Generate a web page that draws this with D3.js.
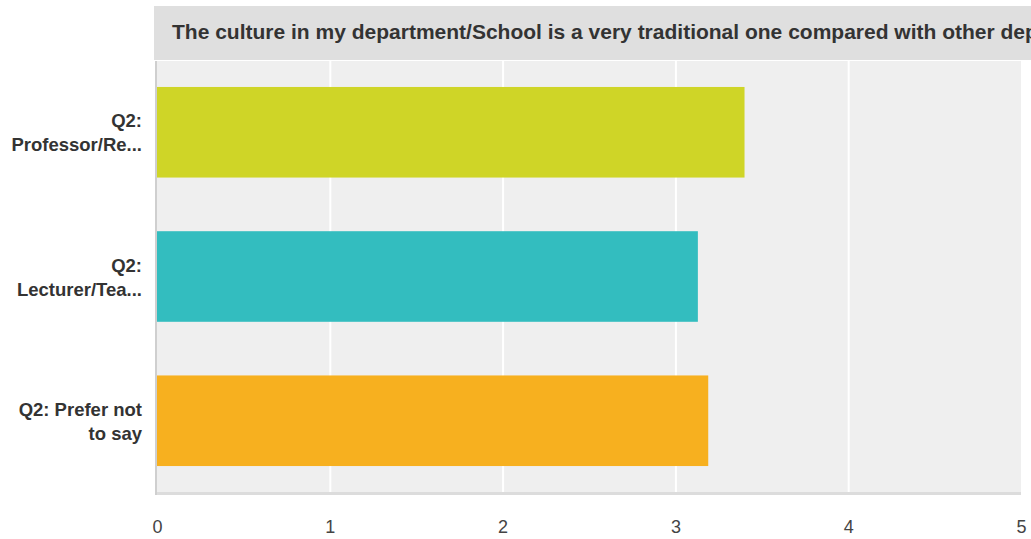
<!DOCTYPE html>
<html><head><meta charset="utf-8">
<script src="https://cdn.jsdelivr.net/npm/d3@7"></script>
<style>html,body{margin:0;padding:0;background:#fff;}svg{display:block;}</style>
</head><body>
<svg id="c" width="1031" height="539"></svg>
<script>
const title = "The culture in my department/School is a very traditional one compared with other departments/Schools";
const categories = ["Q2: Professor/Re...", "Q2: Lecturer/Tea...", "Q2: Prefer not to say"];
const labelLines = [["Q2:", "Professor/Re..."], ["Q2:", "Lecturer/Tea..."], ["Q2: Prefer not", "to say"]];
const values = [3.40, 3.13, 3.19];
const colors = ["#cfd527", "#33bdbf", "#f7b01f"];
const ticks = [0, 1, 2, 3, 4, 5];

const svg = d3.select("#c");
const font = "'Liberation Sans', Arial, Helvetica, sans-serif";
const L = 157, R = 1021, T = 61, B = 492;

const x = d3.scaleLinear().domain([0, 5]).range([L, R]);
const y = d3.scaleBand().domain(categories).range([T, B]).paddingInner(0.372).paddingOuter(0.18);

// title bar
const defs = svg.append("defs");
defs.append("clipPath").attr("id", "tclip").append("rect").attr("x", 154).attr("y", 6).attr("width", 877).attr("height", 54);
svg.append("rect").attr("x", 154).attr("y", 6).attr("width", 877).attr("height", 54).attr("fill", "#dfdfdf");
svg.append("g").attr("clip-path", "url(#tclip)").append("text")
  .attr("x", 172).attr("y", 39).attr("font-family", font).attr("font-size", 21).attr("font-weight", "bold")
  .attr("fill", "#333").text(title);

// plot bg
svg.append("rect").attr("x", 155).attr("y", T).attr("width", R - 155).attr("height", B - T).attr("fill", "#efefef");

// grid
svg.append("g").selectAll("line").data(ticks.filter(t => t > 0 && t < 5)).join("line")
  .attr("x1", d => x(d) + 0.5).attr("x2", d => x(d) + 0.5).attr("y1", T).attr("y2", B)
  .attr("stroke", "#fff").attr("stroke-width", 2);

// bars
svg.append("g").selectAll("rect").data(values).join("rect")
  .attr("x", x(0)).attr("y", (d, i) => y(categories[i]))
  .attr("width", d => x(d) - x(0)).attr("height", y.bandwidth())
  .attr("fill", (d, i) => colors[i]);

// axes lines
svg.append("rect").attr("x", 155).attr("y", B).attr("width", R - 155).attr("height", 3).attr("fill", "#dcdcdc");
svg.append("rect").attr("x", 155).attr("y", T).attr("width", 2).attr("height", B - T + 3).attr("fill", "#cfcfcf");

// x axis tick labels
const xAxis = d3.axisBottom(x).tickValues(ticks).tickSize(0).tickFormat(d3.format("d"));
const gx = svg.append("g").attr("transform", `translate(0,${B + 35})`).call(xAxis);
gx.select(".domain").remove();
gx.selectAll("text").attr("font-family", font).attr("font-size", 18).attr("fill", "#444").attr("y", 0).attr("dy", "0.35em");

// y labels
const gy = svg.append("g");
categories.forEach((c, i) => {
  const cy = y(c) + y.bandwidth() / 2;
  const t = gy.append("text").attr("text-anchor", "end").attr("font-family", font)
    .attr("font-size", 18.5).attr("font-weight", "bold").attr("fill", "#333");
  labelLines[i].forEach((ln, j) => {
    t.append("tspan").attr("x", 142).attr("y", cy - 5 + j * 24).text(ln);
  });
});
</script>
</body></html>
